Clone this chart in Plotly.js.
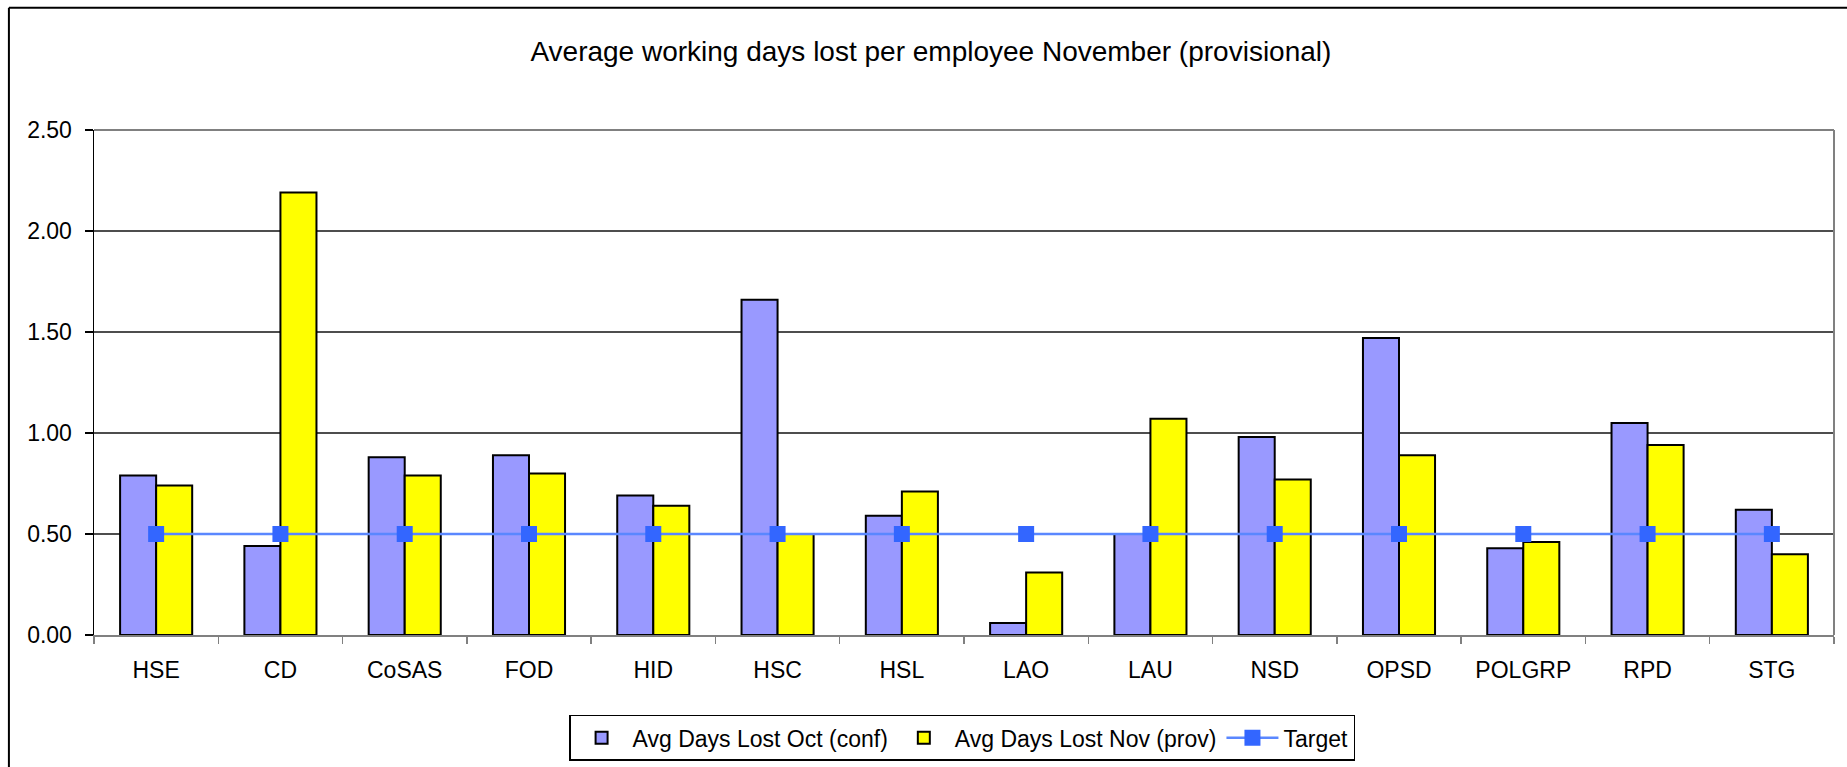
<!DOCTYPE html>
<html>
<head>
<meta charset="utf-8">
<script src="https://cdn.plot.ly/plotly-3.0.1.min.js"></script>
<style>
  html, body { margin: 0; padding: 0; background: #fff; }
  #chart { width: 1847px; height: 767px; }
</style>
</head>
<body>
<div id="chart"></div>
<script>
const categories = ["HSE", "CD", "CoSAS", "FOD", "HID", "HSC", "HSL", "LAO", "LAU", "NSD", "OPSD", "POLGRP", "RPD", "STG"];
const octConf = [0.79, 0.44, 0.88, 0.89, 0.69, 1.66, 0.59, 0.06, 0.50, 0.98, 1.47, 0.43, 1.05, 0.62];
const novProv = [0.74, 2.19, 0.79, 0.80, 0.64, 0.50, 0.71, 0.31, 1.07, 0.77, 0.89, 0.46, 0.94, 0.40];
const target = [0.50, 0.50, 0.50, 0.50, 0.50, 0.50, 0.50, 0.50, 0.50, 0.50, 0.50, 0.50, 0.50, 0.50];
const yTickVals = [0, 0.5, 1.0, 1.5, 2.0, 2.5];
const yTickText = ["0.00", "0.50", "1.00", "1.50", "2.00", "2.50"];
const seriesNames = ["Avg Days Lost Oct (conf)", "Avg Days Lost Nov (prov)", "Target"];
const titleText = "Average working days lost per employee November (provisional)";

const FONT = "Liberation Sans, Arial, sans-serif";

const traces = [
  {
    type: "bar", name: seriesNames[0], x: categories, y: octConf,
    marker: { color: "#9999FF", line: { color: "#000000", width: 2 } }
  },
  {
    type: "bar", name: seriesNames[1], x: categories, y: novProv,
    marker: { color: "#FFFF00", line: { color: "#000000", width: 2 } }
  },
  {
    type: "scatter", mode: "lines+markers", name: seriesNames[2], x: categories, y: target,
    line: { color: "#5A87FF", width: 2.5 },
    marker: { symbol: "square", size: 16, color: "#3366FF" }
  }
];

const layout = {
  width: 1847, height: 767,
  paper_bgcolor: "#ffffff", plot_bgcolor: "#ffffff",
  font: { family: FONT, size: 23, color: "#000000" },
  margin: { l: 94, r: 13, t: 129.5, b: 132, pad: 0, autoexpand: false },
  title: {
    text: titleText, font: { family: FONT, size: 28, color: "#000000" },
    xref: "container", yref: "container", x: 0.504, y: 0.933,
    xanchor: "center", yanchor: "middle"
  },
  barmode: "group", bargap: 0.42, bargroupgap: 0,
  showlegend: true,
  legend: {
    orientation: "h", xref: "paper", yref: "paper",
    x: 0.4989, xanchor: "center", y: -0.158, yanchor: "top",
    bordercolor: "#000000", borderwidth: 1.5, bgcolor: "#ffffff",
    font: { family: FONT, size: 23, color: "#000000" },
    traceorder: "normal", itemwidth: 52
  },
  xaxis: {
    type: "category", range: [-0.5, 13.5], autorange: false,
    showgrid: false, zeroline: false,
    showline: true, linecolor: "#808080", linewidth: 2, mirror: false,
    ticks: "outside", tickson: "boundaries", ticklen: 7, tickcolor: "#808080", tickwidth: 1.5,
    ticklabelstandoff: 13,
    tickfont: { family: FONT, size: 23, color: "#000000" },
    fixedrange: true
  },
  yaxis: {
    range: [0, 2.5], autorange: false, tickvals: yTickVals, ticktext: yTickText,
    showgrid: true, gridcolor: "#4d4d4d", gridwidth: 1.5, zeroline: false,
    showline: true, linecolor: "#000000", linewidth: 1.5,
    ticks: "outside", ticklen: 8, tickcolor: "#000000", tickwidth: 1.5,
    ticklabelstandoff: 8,
    tickfont: { family: FONT, size: 23, color: "#000000" },
    fixedrange: true
  },
  shapes: [
    { type: "line", xref: "paper", yref: "paper", x0: 1, x1: 1, y0: 0, y1: 1,
      line: { color: "#808080", width: 2 } },
    { type: "line", xref: "paper", yref: "paper", x0: 0, x1: 1, y0: 1, y1: 1,
      line: { color: "#808080", width: 2 } },
    { type: "line", xref: "paper", yref: "paper", x0: -0.0489, x1: -0.0489, y0: 1.2423, y1: -0.27,
      line: { color: "#000000", width: 2 } },
    { type: "line", xref: "paper", yref: "paper", x0: -0.0489, x1: 1.0075, y0: 1.2423, y1: 1.2423,
      line: { color: "#000000", width: 2 } }
  ]
};

Plotly.newPlot("chart", traces, layout, { displayModeBar: false, staticPlot: true });
</script>
</body>
</html>
